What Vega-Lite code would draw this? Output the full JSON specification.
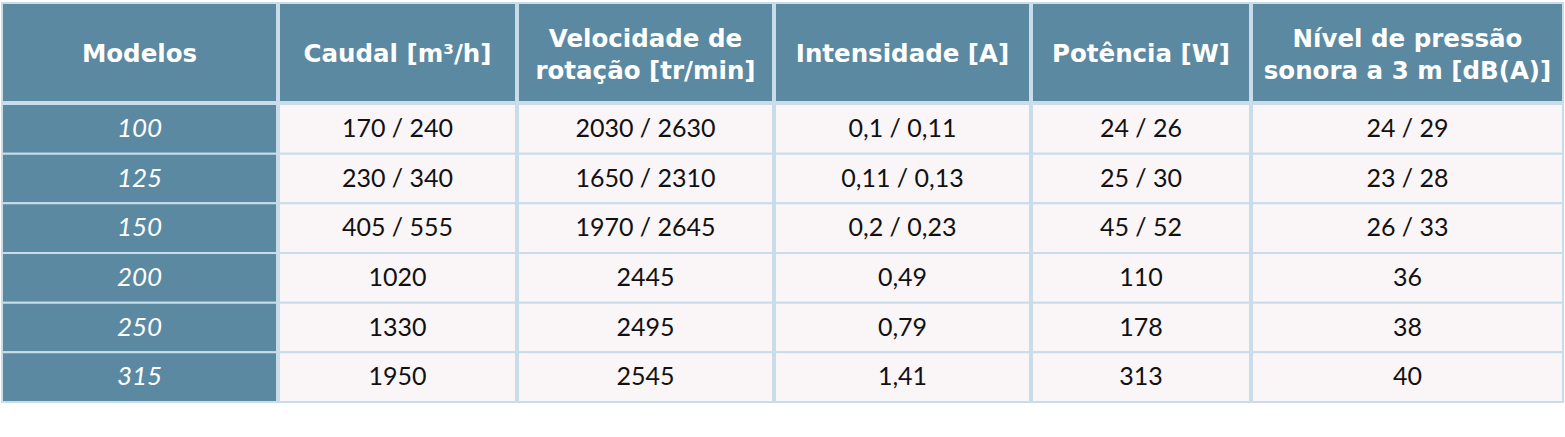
{
  "$schema": "https://vega.github.io/schema/vega-lite/v6.json",
  "background": "white",
  "padding": {"left": 1, "top": 2, "right": 0, "bottom": 0},
  "spacing": 0,
  "config": {
    "view": {"stroke": null},
    "concat": {"spacing": 0},
    "text": {"font": "Lato", "lineBreak": "\n"}
  },
  "datasets": {
    "header": [
      {"key": "modelo", "label": "Modelos"},
      {"key": "caudal", "label": "Caudal [m³/h]"},
      {"key": "vel", "label": "Velocidade de\nrotação [tr/min]"},
      {"key": "int", "label": "Intensidade [A]"},
      {"key": "pot", "label": "Potência [W]"},
      {"key": "nivel", "label": "Nível de pressão\nsonora a 3 m [dB(A)]"}
    ],
    "body": [
      {"modelo": "100", "caudal": "170 / 240", "vel": "2030 / 2630", "int": "0,1 / 0,11", "pot": "24 / 26", "nivel": "24 / 29"},
      {"modelo": "125", "caudal": "230 / 340", "vel": "1650 / 2310", "int": "0,11 / 0,13", "pot": "25 / 30", "nivel": "23 / 28"},
      {"modelo": "150", "caudal": "405 / 555", "vel": "1970 / 2645", "int": "0,2 / 0,23", "pot": "45 / 52", "nivel": "26 / 33"},
      {"modelo": "200", "caudal": "1020", "vel": "2445", "int": "0,49", "pot": "110", "nivel": "36"},
      {"modelo": "250", "caudal": "1330", "vel": "2495", "int": "0,79", "pot": "178", "nivel": "38"},
      {"modelo": "315", "caudal": "1950", "vel": "2545", "int": "1,41", "pot": "313", "nivel": "40"}
    ]
  },
  "vconcat": [
    {
      "data": {"name": "header"},
      "spacing": 0,
      "hconcat": [
        {"width": 275, "height": 99, "transform": [{"filter": "datum.key == 'modelo'"}],
         "encoding": {"y": {"field": "key", "type": "nominal", "axis": null}},
         "layer": [
           {"mark": {"type": "rect", "fill": "#5b89a1", "stroke": "#c8dde9", "strokeWidth": 2}},
           {"mark": {"type": "text", "font": "DejaVu Sans", "fontSize": 24.5, "fontWeight": "bold", "color": "white", "dy": 2}, "encoding": {"text": {"field": "label"}}}
         ]},
        {"width": 237, "height": 99, "transform": [{"filter": "datum.key == 'caudal'"}],
         "encoding": {"y": {"field": "key", "type": "nominal", "axis": null}},
         "layer": [
           {"mark": {"type": "rect", "fill": "#5b89a1", "stroke": "#c8dde9", "strokeWidth": 2}},
           {"mark": {"type": "text", "font": "DejaVu Sans", "fontSize": 24.5, "fontWeight": "bold", "color": "white", "dy": 2}, "encoding": {"text": {"field": "label"}}}
         ]},
        {"width": 255, "height": 99, "transform": [{"filter": "datum.key == 'vel'"}],
         "encoding": {"y": {"field": "key", "type": "nominal", "axis": null}},
         "layer": [
           {"mark": {"type": "rect", "fill": "#5b89a1", "stroke": "#c8dde9", "strokeWidth": 2}},
           {"mark": {"type": "text", "font": "DejaVu Sans", "fontSize": 24.5, "fontWeight": "bold", "color": "white", "lineHeight": 32, "dy": -13}, "encoding": {"text": {"field": "label"}}}
         ]},
        {"width": 255, "height": 99, "transform": [{"filter": "datum.key == 'int'"}],
         "encoding": {"y": {"field": "key", "type": "nominal", "axis": null}},
         "layer": [
           {"mark": {"type": "rect", "fill": "#5b89a1", "stroke": "#c8dde9", "strokeWidth": 2}},
           {"mark": {"type": "text", "font": "DejaVu Sans", "fontSize": 24.5, "fontWeight": "bold", "color": "white", "dy": 2}, "encoding": {"text": {"field": "label"}}}
         ]},
        {"width": 218, "height": 99, "transform": [{"filter": "datum.key == 'pot'"}],
         "encoding": {"y": {"field": "key", "type": "nominal", "axis": null}},
         "layer": [
           {"mark": {"type": "rect", "fill": "#5b89a1", "stroke": "#c8dde9", "strokeWidth": 2}},
           {"mark": {"type": "text", "font": "DejaVu Sans", "fontSize": 24.5, "fontWeight": "bold", "color": "white", "dy": 2}, "encoding": {"text": {"field": "label"}}}
         ]},
        {"width": 311, "height": 99, "transform": [{"filter": "datum.key == 'nivel'"}],
         "encoding": {"y": {"field": "key", "type": "nominal", "axis": null}},
         "layer": [
           {"mark": {"type": "rect", "fill": "#5b89a1", "stroke": "#c8dde9", "strokeWidth": 2}},
           {"mark": {"type": "text", "font": "DejaVu Sans", "fontSize": 24.5, "fontWeight": "bold", "color": "white", "lineHeight": 32, "dy": -13}, "encoding": {"text": {"field": "label"}}}
         ]}
      ]
    },
    {
      "data": {"name": "body"},
      "spacing": 0,
      "hconcat": [
        {"width": 275, "height": 298,
         "encoding": {"y": {"field": "modelo", "type": "nominal", "sort": null, "axis": null}},
         "layer": [
           {"mark": {"type": "rect", "fill": "#5b89a1", "stroke": "#c8dde9", "strokeWidth": 2}},
           {"mark": {"type": "text", "fontSize": 26, "fontStyle": "italic", "color": "white"}, "encoding": {"text": {"field": "modelo"}}}
         ]},
        {"width": 237, "height": 298,
         "encoding": {"y": {"field": "modelo", "type": "nominal", "sort": null, "axis": null}},
         "layer": [
           {"mark": {"type": "rect", "fill": "#faf5f7", "stroke": "#c8dde9", "strokeWidth": 2}},
           {"mark": {"type": "text", "fontSize": 25, "color": "#111"}, "encoding": {"text": {"field": "caudal"}}}
         ]},
        {"width": 255, "height": 298,
         "encoding": {"y": {"field": "modelo", "type": "nominal", "sort": null, "axis": null}},
         "layer": [
           {"mark": {"type": "rect", "fill": "#faf5f7", "stroke": "#c8dde9", "strokeWidth": 2}},
           {"mark": {"type": "text", "fontSize": 25, "color": "#111"}, "encoding": {"text": {"field": "vel"}}}
         ]},
        {"width": 255, "height": 298,
         "encoding": {"y": {"field": "modelo", "type": "nominal", "sort": null, "axis": null}},
         "layer": [
           {"mark": {"type": "rect", "fill": "#faf5f7", "stroke": "#c8dde9", "strokeWidth": 2}},
           {"mark": {"type": "text", "fontSize": 25, "color": "#111"}, "encoding": {"text": {"field": "int"}}}
         ]},
        {"width": 218, "height": 298,
         "encoding": {"y": {"field": "modelo", "type": "nominal", "sort": null, "axis": null}},
         "layer": [
           {"mark": {"type": "rect", "fill": "#faf5f7", "stroke": "#c8dde9", "strokeWidth": 2}},
           {"mark": {"type": "text", "fontSize": 25, "color": "#111"}, "encoding": {"text": {"field": "pot"}}}
         ]},
        {"width": 311, "height": 298,
         "encoding": {"y": {"field": "modelo", "type": "nominal", "sort": null, "axis": null}},
         "layer": [
           {"mark": {"type": "rect", "fill": "#faf5f7", "stroke": "#c8dde9", "strokeWidth": 2}},
           {"mark": {"type": "text", "fontSize": 25, "color": "#111"}, "encoding": {"text": {"field": "nivel"}}}
         ]}
      ]
    }
  ]
}
